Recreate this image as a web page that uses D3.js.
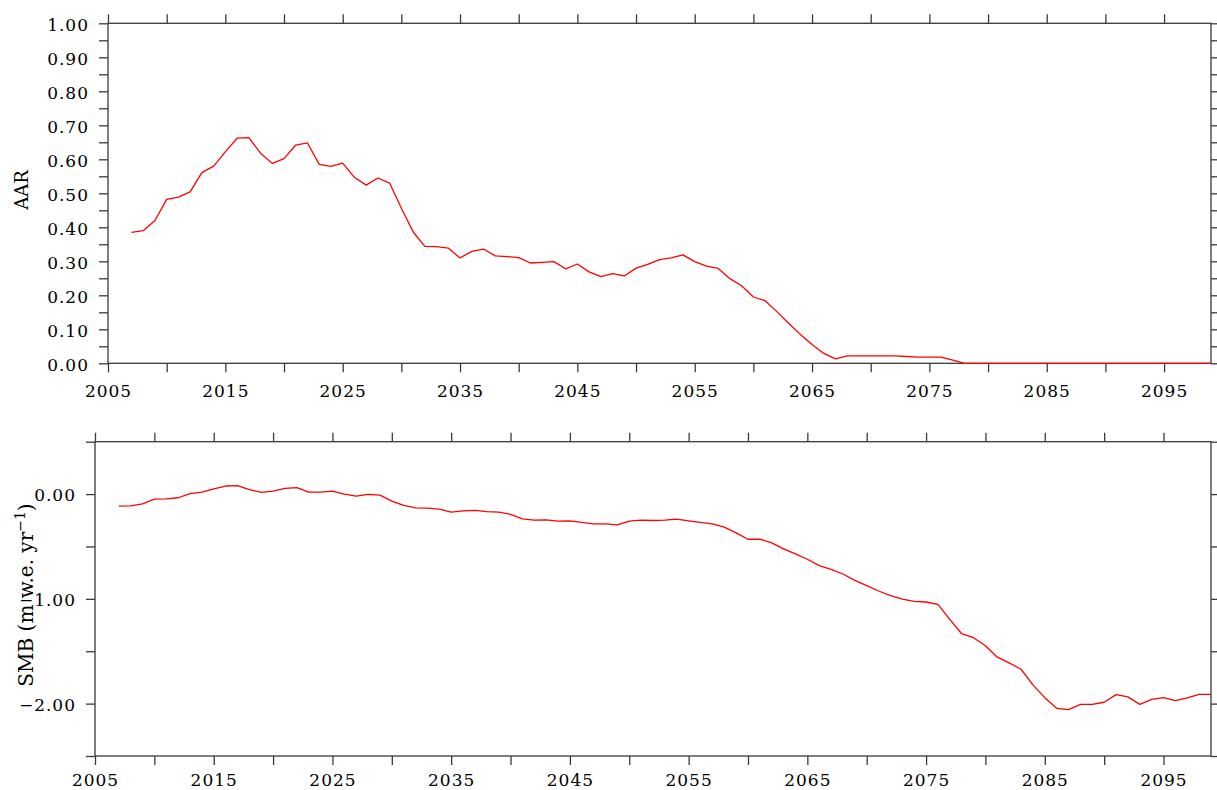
<!DOCTYPE html>
<html><head><meta charset="utf-8">
<script src="https://cdn.jsdelivr.net/npm/d3@7"></script>
<style>
body{margin:0;background:#fff;}
svg{display:block;}
text{font-family:"DejaVu Serif",serif;fill:#000;}
</style></head>
<body>
<svg id="c" width="1217" height="790"></svg>
<script>
const years = d3.range(2007, 2100);
const aar = [0.385,0.390,0.420,0.482,0.489,0.504,0.561,0.580,0.622,0.662,0.664,0.618,0.588,0.602,0.642,0.648,0.585,0.579,0.589,0.547,0.524,0.545,0.530,0.456,0.387,0.344,0.343,0.339,0.310,0.329,0.336,0.316,0.314,0.311,0.295,0.297,0.299,0.278,0.292,0.269,0.255,0.264,0.257,0.280,0.291,0.305,0.310,0.319,0.299,0.286,0.279,0.249,0.228,0.195,0.184,0.152,0.118,0.085,0.055,0.029,0.013,0.022,0.022,0.022,0.022,0.022,0.020,0.018,0.018,0.018,0.009,
0,0,0,0,0,0,0,0,0,0,0,0,0,0,0,0,0,0,0,0,0,0];
const smb = [-0.115,-0.112,-0.093,-0.048,-0.045,-0.035,0.004,0.019,0.050,0.077,0.080,0.043,0.017,0.029,0.055,0.062,0.019,0.019,0.029,0.000,-0.019,-0.003,-0.010,-0.067,-0.108,-0.131,-0.134,-0.144,-0.172,-0.160,-0.156,-0.168,-0.173,-0.193,-0.236,-0.249,-0.246,-0.258,-0.255,-0.271,-0.284,-0.284,-0.294,-0.258,-0.249,-0.252,-0.249,-0.239,-0.255,-0.271,-0.284,-0.316,-0.370,-0.431,-0.431,-0.466,-0.523,-0.571,-0.622,-0.683,-0.718,-0.763,-0.823,-0.874,-0.925,-0.969,-1.002,-1.024,-1.030,-1.053,-1.196,-1.333,-1.371,-1.448,-1.557,-1.611,-1.672,-1.821,-1.943,-2.045,-2.057,-2.007,-2.007,-1.987,-1.914,-1.936,-2.007,-1.959,-1.943,-1.971,-1.946,-1.911,-1.911];
const xTicks = d3.range(2005, 2100, 5);
const xLabels = [2005,2015,2025,2035,2045,2055,2065,2075,2085,2095];
const aarTicks = d3.range(0, 21).map(i => i*0.05);
const aarLabels = d3.range(0, 11).map(i => +(i*0.1).toFixed(2));
const smbTicks = [-2.5,-2.0,-1.5,-1.0,-0.5,0.0,0.5];
const smbLabels = [-2.0,-1.0,0.0];

const svg = d3.select("#c");
const AX = "#3a3a3a";

function panel(cfg){
  const {x0,x1,y0,y1,ydom,yTicks,yLabels,vals,title,titleX,titleY,titleSize,xBase} = cfg;
  const x = d3.scaleLinear().domain([2005,2099]).range([x0,x1]);
  const y = d3.scaleLinear().domain(ydom).range([y1,y0]);
  const g = svg.append("g");
  const near = (arr,v) => arr.some(a => Math.abs(a-v)<1e-6);
  const fmt = d3.format(".2f");
  const gb = g.append("g").attr("transform",`translate(0,${y1})`)
    .call(d3.axisBottom(x).tickValues(xTicks).tickSize(9).tickSizeOuter(0).tickPadding(13)
      .tickFormat(d => near(xLabels,d) ? String(d) : ""));
  gb.selectAll("text").attr("font-size",17).attr("letter-spacing",1).attr("dy",null)
    .attr("y", xBase - y1).attr("dominant-baseline","alphabetic");
  g.append("g").attr("transform",`translate(0,${y0})`)
    .call(d3.axisTop(x).tickValues(xTicks).tickSize(9).tickSizeOuter(0).tickFormat(""));
  const gl = g.append("g").attr("transform",`translate(${x0},0)`)
    .call(d3.axisLeft(y).tickValues(yTicks).tickSize(9).tickSizeOuter(0).tickPadding(10)
      .tickFormat(d => near(yLabels,d) ? fmt(d) : ""));
  gl.selectAll("text").attr("font-size",17).attr("letter-spacing",1).attr("dy","0.4em");
  g.append("g").attr("transform",`translate(${x1},0)`)
    .call(d3.axisRight(y).tickValues(yTicks).tickSize(9).tickSizeOuter(0).tickFormat(""));
  g.selectAll(".domain").remove();
  g.selectAll(".tick line").attr("stroke",AX).attr("stroke-width",1.3);
  g.selectAll(".tick text").attr("font-family","DejaVu Serif").attr("fill","#000");
  g.append("rect").attr("x",x0).attr("y",y0).attr("width",x1-x0).attr("height",y1-y0)
    .attr("fill","none").attr("stroke",AX).attr("stroke-width",1.3);
  g.append("path").datum(vals.map((v,i)=>[years[i],v]))
    .attr("fill","none").attr("stroke","#ff0000").attr("stroke-width",1.3)
    .attr("stroke-linejoin","round")
    .attr("d", d3.line().x(d=>x(d[0])).y(d=>y(d[1])));
  const t = g.append("text").attr("transform",`translate(${titleX},${titleY}) rotate(-90)`)
    .attr("text-anchor","middle").attr("font-size",titleSize).attr("font-family","DejaVu Serif");
  title(t);
}

panel({x0:108,x1:1211,y0:23.3,y1:363.3,ydom:[0,1],yTicks:aarTicks,yLabels:aarLabels,vals:aar,
  xBase:397, titleX:28, titleY:190, titleSize:18,
  title: t => t.text("AAR")});
panel({x0:95,x1:1211,y0:441.7,y1:756,ydom:[-2.5,0.5],yTicks:smbTicks,yLabels:smbLabels,vals:smb,
  xBase:786, titleX:33, titleY:595, titleSize:20,
  title: t => { t.append("tspan").text("SMB (m w.e. yr");
    t.append("tspan").attr("baseline-shift","super").attr("font-size",14).text("−1");
    t.append("tspan").text(")"); }});
</script>
</body></html>
